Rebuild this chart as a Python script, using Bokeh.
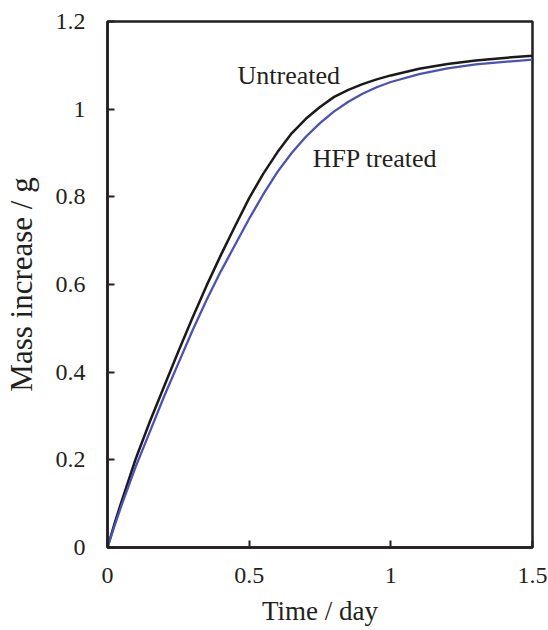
from bokeh.plotting import figure
from bokeh.models import Range1d, FixedTicker, CustomJSTickFormatter, Label
from bokeh.embed import file_html
from bokeh.resources import INLINE

# Data
time_day = [0, 0.025, 0.05, 0.1, 0.15, 0.2, 0.25, 0.3, 0.35, 0.4, 0.45, 0.5,
            0.55, 0.6, 0.65, 0.7, 0.75, 0.8, 0.85, 0.9, 0.95, 1.0, 1.1, 1.2,
            1.3, 1.4, 1.5]
untreated = [0, 0.055, 0.106, 0.203, 0.288, 0.368, 0.447, 0.524, 0.598,
             0.667, 0.733, 0.797, 0.853, 0.902, 0.945, 0.978, 1.005, 1.028,
             1.044, 1.057, 1.068, 1.077, 1.092, 1.103, 1.111, 1.117, 1.122]
hfp_treated = [0, 0.05, 0.097, 0.185, 0.265, 0.345, 0.42, 0.495, 0.565,
               0.63, 0.69, 0.75, 0.806, 0.857, 0.9, 0.937, 0.968, 0.995,
               1.017, 1.035, 1.05, 1.062, 1.08, 1.093, 1.102, 1.108, 1.113]
x_ticks = [0, 0.5, 1, 1.5]
y_ticks = [0, 0.2, 0.4, 0.6, 0.8, 1, 1.2]

FONT = "'Liberation Serif', 'Times New Roman', serif"
TXT = "#231f20"

p = figure(width=548, height=630, output_backend="svg", toolbar_location=None,
           x_range=Range1d(0, 1.5), y_range=Range1d(0, 1.2),
           min_border_left=105, min_border_right=18, min_border_top=21,
           min_border_bottom=83, frame_width=425, frame_height=526)
p.background_fill_color = "white"
p.border_fill_color = "white"
p.xgrid.visible = False
p.ygrid.visible = False
p.outline_line_color = TXT
p.outline_line_width = 2.5

p.line(time_day, untreated, line_color="#1a1a1a", line_width=2.5,
       line_join="round")
p.line(time_day, hfp_treated, line_color="#4b52b5", line_width=2.3,
       line_join="round")

fmt = CustomJSTickFormatter(code="return tick.toString();")
for ax, ticks in ((p.xaxis[0], x_ticks), (p.yaxis[0], y_ticks)):
    ax.ticker = FixedTicker(ticks=ticks)
    ax.formatter = fmt
    ax.minor_tick_line_color = None
    ax.major_tick_in = 7
    ax.major_tick_out = 0
    ax.major_tick_line_width = 2
    ax.major_tick_line_color = TXT
    ax.axis_line_width = 2.5
    ax.axis_line_color = TXT
    ax.major_label_text_font = FONT
    ax.major_label_text_font_size = "24px"
    ax.major_label_text_color = TXT
    ax.axis_label_text_font = FONT
    ax.axis_label_text_font_style = "normal"
    ax.axis_label_text_color = TXT

p.xaxis.axis_label = "Time / day"
p.xaxis.axis_label_text_font_size = "27px"
p.xaxis.major_label_standoff = 20
p.xaxis.axis_label_standoff = 10
p.yaxis.axis_label = "Mass increase / g"
p.yaxis.axis_label_text_font_size = "31px"
p.yaxis.major_label_standoff = 22
p.yaxis.axis_label_standoff = 14

label_untreated = (0.459, 1.077)
label_hfp = (0.724, 0.8875)
p.add_layout(Label(x=label_untreated[0], y=label_untreated[1], text="Untreated",
                   text_font=FONT, text_font_size="26px", text_color=TXT,
                   text_baseline="alphabetic", text_align="left"))
p.add_layout(Label(x=label_hfp[0], y=label_hfp[1], text="HFP treated",
                   text_font=FONT, text_font_size="26px", text_color=TXT,
                   text_baseline="alphabetic", text_align="left"))

open("out.html", "w").write(file_html(p, INLINE))
